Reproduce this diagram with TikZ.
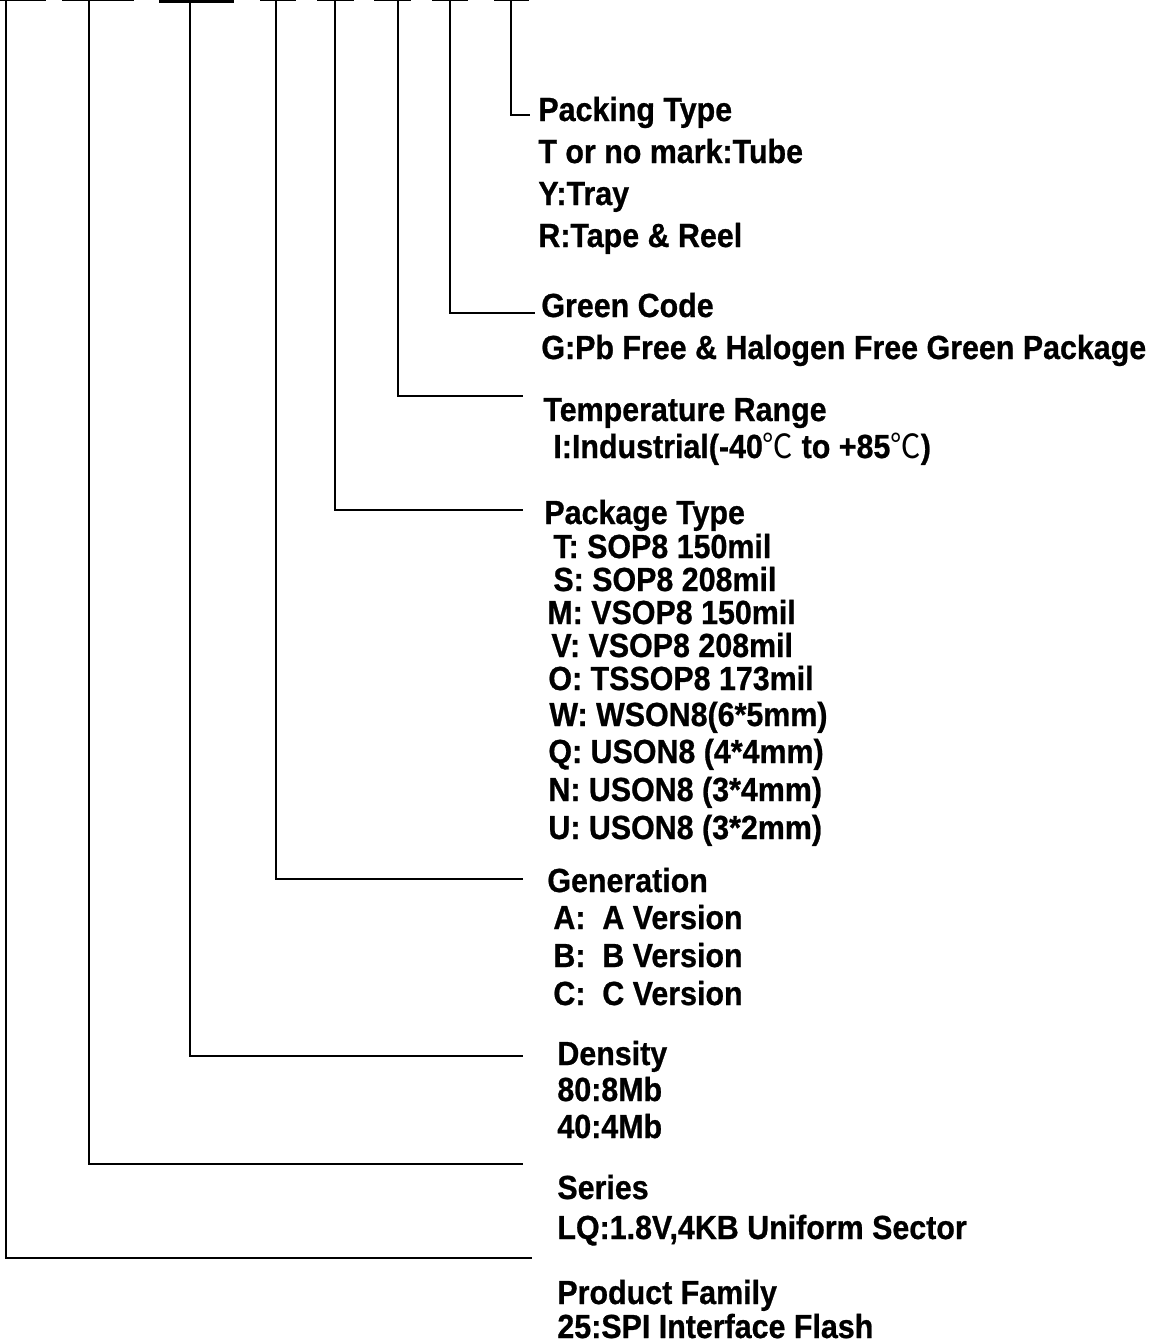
\documentclass[tikz,border=0pt]{standalone}
\usepackage{fontspec}
\setmainfont{Liberation Sans}[BoldFeatures={FakeBold=0.8}]
\newfontfamily\cjk{Noto Sans CJK SC}
\newcommand{\degc}{{\cjk\mdseries ℃}}
\tikzset{
  field/.style={draw=black,line width=1.2pt},
  lead/.style={draw=black,line width=0.8pt},
  txt/.style={anchor=base west,inner sep=0pt,yscale=1.1,font=\fontsize{15.2}{18}\selectfont\bfseries},
}
\begin{document}
\begin{tikzpicture}[x=0.5pt,y=-0.5pt]
\useasboundingbox (0,0) rectangle (1157,1344);

% part number fields
\foreach \l/\r in {0/46,62/134,260/296,317/354,374/411,432/468,494/529}
  \draw[field] (\l,0) -- (\r,0);
\draw[field,line width=3pt] (159,0) -- (234,0);

% taps and lead ends
\foreach \n/\x/\ex/\ey in {fam/6/532/1258,ser/89/523/1164,den/190/523/1056,gen/276/523/879,pkg/335/523/510,tmp/398/523/396,grn/450/535/313,pck/511/530/115}{
  \coordinate (\n top) at (\x,0);
  \coordinate (\n end) at (\ex,\ey);
  \draw[lead] (\n top) |- (\n end);
}

% packing type
\node[txt] (pckT) at (538,121) {Packing Type};
\node[txt] (pck1) at (538,163) {T or no mark:Tube};
\node[txt] (pck2) at (538,205) {Y:Tray};
\node[txt] (pck3) at (538,247) {R:Tape \& Reel};

% green code
\node[txt] (grnT) at (541,317) {Green Code};
\node[txt] (grn1) at (541,359) {G:Pb Free \& Halogen Free Green Package};

% temperature
\node[txt] (tmpT) at (543,421) {Temperature Range};
\node[txt] (tmp1) at (553,458) {I:Industrial(-40\degc\ to +85\degc)};

% package type
\node[txt] (pkgT) at (544,524) {Package Type};
\node[txt] (pkg1) at (553,558) {T: SOP8 150mil};
\node[txt] (pkg2) at (553,591) {S: SOP8 208mil};
\node[txt] (pkg3) at (547,624) {M: VSOP8 150mil};
\node[txt] (pkg4) at (551,657) {V: VSOP8 208mil};
\node[txt] (pkg5) at (548,690) {O: TSSOP8 173mil};
\node[txt] (pkg6) at (549,726) {W: WSON8(6*5mm)};
\node[txt] (pkg7) at (548,763) {Q: USON8 (4*4mm)};
\node[txt] (pkg8) at (548,801) {N: USON8 (3*4mm)};
\node[txt] (pkg9) at (548,839) {U: USON8 (3*2mm)};

% generation
\node[txt] (genT) at (547,892) {Generation};
\node[txt] (gen1) at (553,929) {A:\ \ A Version};
\node[txt] (gen2) at (553,967) {B:\ \ B Version};
\node[txt] (gen3) at (553,1005) {C:\ \ C Version};

% density
\node[txt] (denT) at (557,1065) {Density};
\node[txt] (den1) at (557,1101) {80:8Mb};
\node[txt] (den2) at (557,1138) {40:4Mb};

% series
\node[txt] (serT) at (557,1199) {Series};
\node[txt] (ser1) at (557,1239) {LQ:1.8V,4KB Uniform Sector};

% product family
\node[txt] (famT) at (557,1304) {Product Family};
\node[txt] (fam1) at (557,1338) {25:SPI Interface Flash};

\end{tikzpicture}
\end{document}
